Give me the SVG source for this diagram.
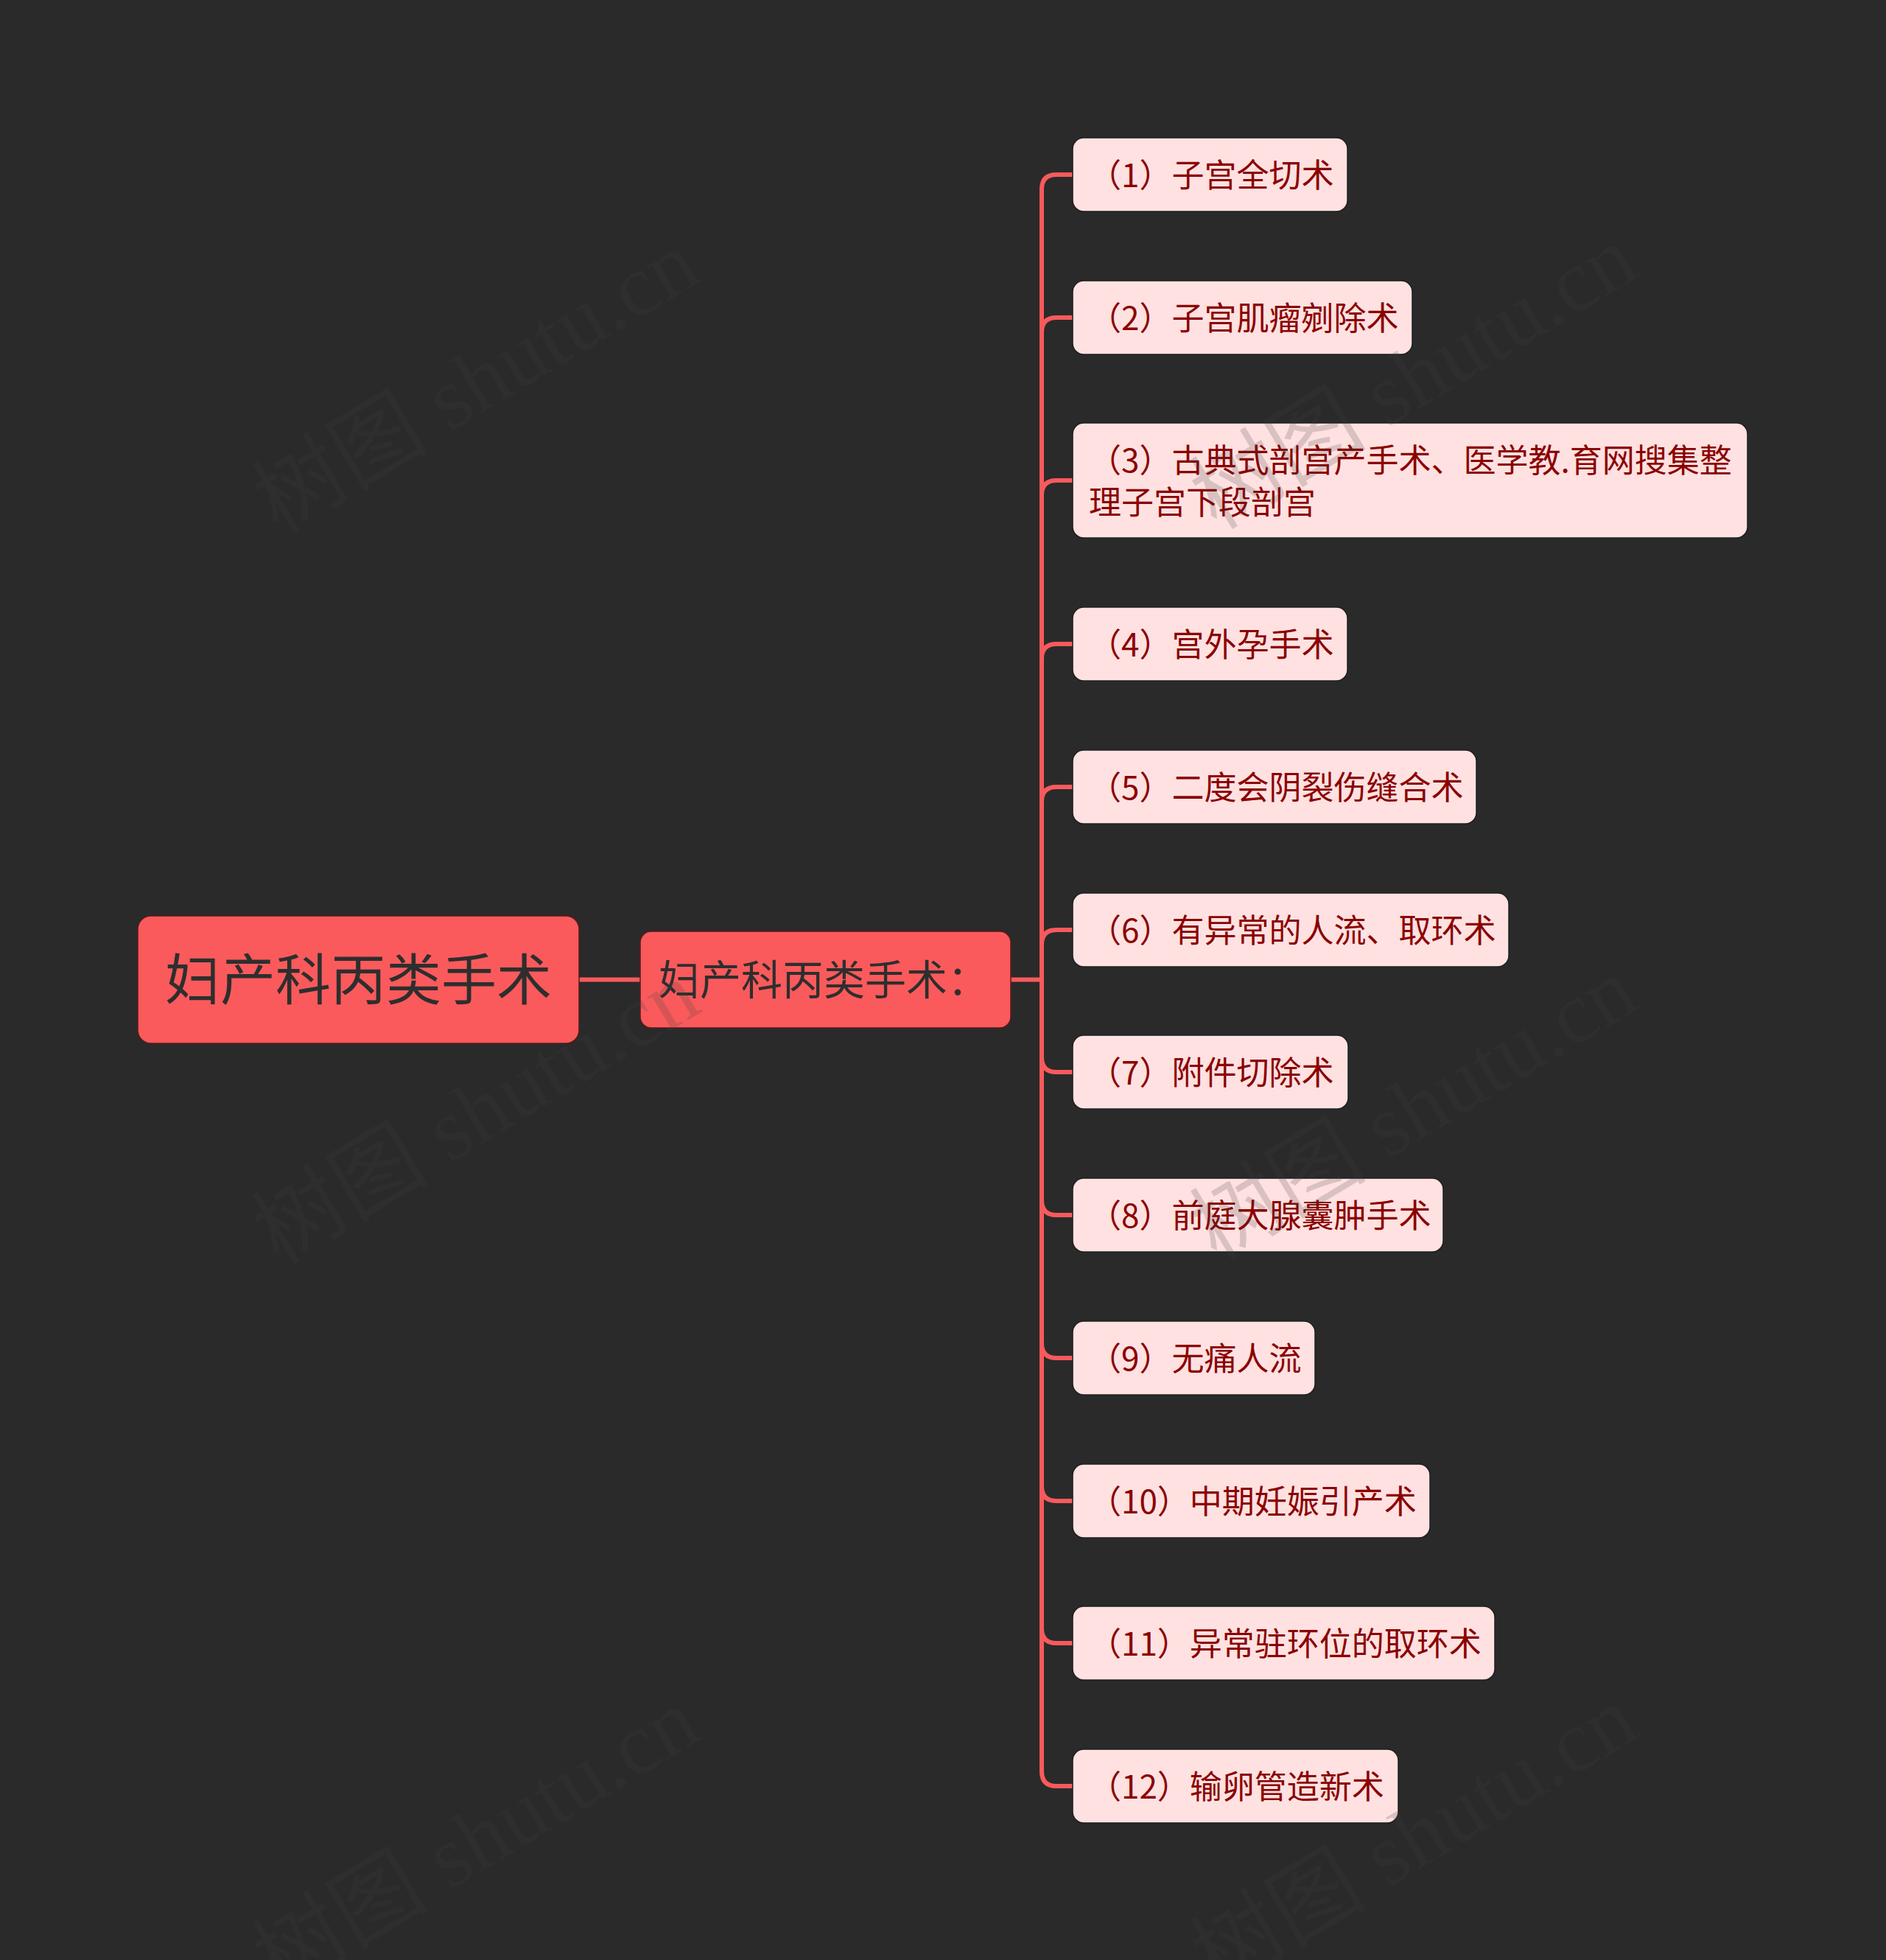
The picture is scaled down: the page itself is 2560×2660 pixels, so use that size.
<svg xmlns="http://www.w3.org/2000/svg" width="2560" height="2660" viewBox="0 0 2560 2660">
<style>
.bg{fill:#2a2a2a}
.root{fill:#fa5a5c;stroke:#5a1a1a;stroke-width:1.5}
.sub{fill:#fa5a5c;stroke:#5a1a1a;stroke-width:1.5}
.leaf{fill:#ffe1e1;stroke:#1e1e1e;stroke-width:1.5}
.t{font-family:"Noto Sans CJK SC","Noto Sans",sans-serif;dominant-baseline:central}
.tr{font-size:75px;fill:#2e2e2e;text-anchor:middle}
.ts{font-size:56px;fill:#2e2e2e}
.tl{font-size:44px;fill:#8b0000}
.edge{fill:none;stroke:#f85a5c;stroke-width:6;stroke-linecap:round}
.wm{font-family:"Liberation Serif","Noto Sans CJK SC",serif;font-size:120px;fill:#434343;fill-opacity:0.2;text-anchor:middle;dominant-baseline:central}
</style>
<rect class="bg" x="0" y="0" width="2560" height="2660"/>
<g id="connectors">
<path class="edge" d="M786 1329.5 H869"/>
<path class="edge" d="M1372 1329.5 H1414"/>
<path class="edge" d="M1414 1329.5 V257 Q1414 237 1434 237 H1456"/>
<path class="edge" d="M1414 1329.5 V451 Q1414 431 1434 431 H1456"/>
<path class="edge" d="M1414 1329.5 V672 Q1414 652 1434 652 H1456"/>
<path class="edge" d="M1414 1329.5 V894 Q1414 874 1434 874 H1456"/>
<path class="edge" d="M1414 1329.5 V1088 Q1414 1068 1434 1068 H1456"/>
<path class="edge" d="M1414 1329.5 V1282 Q1414 1262 1434 1262 H1456"/>
<path class="edge" d="M1414 1329.5 V1435 Q1414 1455 1434 1455 H1456"/>
<path class="edge" d="M1414 1329.5 V1629 Q1414 1649 1434 1649 H1456"/>
<path class="edge" d="M1414 1329.5 V1823 Q1414 1843 1434 1843 H1456"/>
<path class="edge" d="M1414 1329.5 V2017 Q1414 2037 1434 2037 H1456"/>
<path class="edge" d="M1414 1329.5 V2210 Q1414 2230 1434 2230 H1456"/>
<path class="edge" d="M1414 1329.5 V2404 Q1414 2424 1434 2424 H1456"/>
</g>
<g id="root">
<rect class="root" x="187" y="1243" width="599" height="173" rx="18"/>
<text class="t tr" x="486.5" y="1324">妇产科丙类手术</text>
</g>
<g id="sub">
<rect class="sub" x="869" y="1264" width="503" height="131" rx="15"/>
<text class="t ts" x="894" y="1325">妇产科丙类手术：</text>
</g>
<g id="n1"><rect class="leaf" x="1456" y="187" width="373" height="100" rx="15"/><text class="t tl" x="1478" y="235">（1）子宫全切术</text></g>
<g id="n2"><rect class="leaf" x="1456" y="381" width="461" height="100" rx="15"/><text class="t tl" x="1478" y="429">（2）子宫肌瘤剜除术</text></g>
<g id="n3"><rect class="leaf" x="1456" y="574" width="916" height="156" rx="15"/><text class="t tl" x="1478" y="622">（3）古典式剖宫产手术、医学教.育网搜集整</text><text class="t tl" x="1478" y="679">理子宫下段剖宫</text></g>
<g id="n4"><rect class="leaf" x="1456" y="824" width="373" height="100" rx="15"/><text class="t tl" x="1478" y="872">（4）宫外孕手术</text></g>
<g id="n5"><rect class="leaf" x="1456" y="1018" width="548" height="100" rx="15"/><text class="t tl" x="1478" y="1066">（5）二度会阴裂伤缝合术</text></g>
<g id="n6"><rect class="leaf" x="1456" y="1212" width="592" height="100" rx="15"/><text class="t tl" x="1478" y="1260">（6）有异常的人流、取环术</text></g>
<g id="n7"><rect class="leaf" x="1456" y="1405" width="374" height="100" rx="15"/><text class="t tl" x="1478" y="1453">（7）附件切除术</text></g>
<g id="n8"><rect class="leaf" x="1456" y="1599" width="503" height="100" rx="15"/><text class="t tl" x="1478" y="1647">（8）前庭大腺囊肿手术</text></g>
<g id="n9"><rect class="leaf" x="1456" y="1793" width="329" height="100" rx="15"/><text class="t tl" x="1478" y="1841">（9）无痛人流</text></g>
<g id="n10"><rect class="leaf" x="1456" y="1987" width="485" height="100" rx="15"/><text class="t tl" x="1478" y="2035">（10）中期妊娠引产术</text></g>
<g id="n11"><rect class="leaf" x="1456" y="2180" width="573" height="100" rx="15"/><text class="t tl" x="1478" y="2228">（11）异常驻环位的取环术</text></g>
<g id="n12"><rect class="leaf" x="1456" y="2374" width="442" height="100" rx="15"/><text class="t tl" x="1478" y="2422">（12）输卵管造新术</text></g>
<g id="watermark">
<text class="wm" transform="translate(646 518) rotate(-31)">树图 shutu.cn</text>
<text class="wm" transform="translate(646 1510) rotate(-31)">树图 shutu.cn</text>
<text class="wm" transform="translate(646 2497) rotate(-31)">树图 shutu.cn</text>
<text class="wm" transform="translate(1919 512) rotate(-31)">树图 shutu.cn</text>
<text class="wm" transform="translate(1919 1505) rotate(-31)">树图 shutu.cn</text>
<text class="wm" transform="translate(1919 2494) rotate(-31)">树图 shutu.cn</text>
</g>
</svg>
